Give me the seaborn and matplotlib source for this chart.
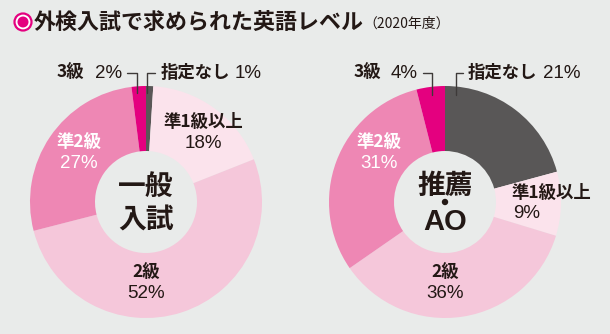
import matplotlib
matplotlib.use("Agg")
import matplotlib.pyplot as plt
from matplotlib.patches import Circle
import seaborn as sns

sns.set_theme(style="white")
plt.rcParams['font.family'] = ['Noto Sans CJK JP', 'DejaVu Sans']

# ---- data ----
categories = ["指定なし", "準1級以上", "2級", "準2級", "3級"]
ippan_values = [1, 18, 52, 27, 2]
suisen_values = [21, 9, 36, 31, 4]
title = "外検入試で求められた英語レベル"
subtitle = "（2020年度）"
center_left = ["一般", "入試"]
center_right = ["推薦", "・", "AO"]

colors = ["#595757", "#fbe3ec", "#f5c7da", "#ee87b4", "#e4007f"]
BG = "#e9ebea"
TXT = "#231815"
NUMFONT = ['Liberation Sans', 'DejaVu Sans']

W, H = 610, 334
fig = plt.figure(figsize=(W / 100, H / 100), dpi=100, facecolor=BG)
ax = fig.add_axes([0, 0, 1, 1])
ax.set_facecolor(BG)


def Y(y):
    return H - y


R, r = 116, 51
centers = [(146, 202), (445, 202)]
for (cx, cy), vals in zip(centers, [ippan_values, suisen_values]):
    ax.pie(vals, colors=colors, startangle=90, counterclock=False,
           radius=R, center=(cx, Y(cy)),
           wedgeprops=dict(width=R - r, edgecolor='none', linewidth=0))

ax.set_xlim(0, W)
ax.set_ylim(0, H)
ax.set_aspect('auto')
ax.axis('off')

# title
ax.add_patch(Circle((23, Y(22)), 8.5, facecolor='white', edgecolor='#e4007f', lw=1.6))
ax.add_patch(Circle((23, Y(22)), 5.5, facecolor='#e4007f', edgecolor='none'))
ax.text(34, Y(22), title, fontsize=15.8, fontweight='bold', color=TXT,
        ha='left', va='center')
ax.text(363, Y(24), subtitle, fontsize=10, color=TXT, ha='left', va='center')

# center labels
ax.text(146, Y(187), center_left[0], fontsize=20, fontweight='bold', color=TXT, ha='center', va='center')
ax.text(146, Y(221), center_left[1], fontsize=20, fontweight='bold', color=TXT, ha='center', va='center')
ax.text(445, Y(186), center_right[0], fontsize=20, fontweight='bold', color=TXT, ha='center', va='center')
ax.add_patch(Circle((445, Y(202)), 3.2, facecolor=TXT, edgecolor='none'))
ax.text(445, Y(222), center_right[2], fontsize=21, fontweight='bold', color=TXT,
        ha='center', va='center', family=['Liberation Sans', 'DejaVu Sans'])

LAB = 12.5
PCT = 13.5


def two_line(x, y, name, pct, color=TXT, ha='center'):
    ax.text(x, Y(y), name, fontsize=LAB, fontweight='bold', color=color, ha=ha, va='center')
    ax.text(x, Y(y + 21), pct, fontsize=PCT, color=color, ha=ha, va='center', family=NUMFONT)


# left donut labels
two_line(203, 122, categories[1], f"{ippan_values[1]}%")
two_line(146, 273, categories[2], f"{ippan_values[2]}%")
two_line(79, 143, categories[3], f"{ippan_values[3]}%", color='white')
ax.text(57, Y(73), categories[4], fontsize=LAB, fontweight='bold', color=TXT, ha='left', va='center')
ax.text(122, Y(73), f"{ippan_values[4]}%", fontsize=PCT, color=TXT, ha='right', va='center', family=NUMFONT)
ax.text(161, Y(73), categories[0], fontsize=LAB, fontweight='bold', color=TXT, ha='left', va='center')
ax.text(262, Y(73), f"{ippan_values[0]}%", fontsize=PCT, color=TXT, ha='right', va='center', family=NUMFONT)

# right donut labels
ax.text(512, Y(193), categories[1], fontsize=LAB, fontweight='bold', color=TXT, ha='left', va='center')
ax.text(513, Y(214), f"{suisen_values[1]}%", fontsize=PCT, color=TXT, ha='left', va='center', family=NUMFONT)
two_line(445, 273, categories[2], f"{suisen_values[2]}%")
two_line(379, 143, categories[3], f"{suisen_values[3]}%", color='white')
ax.text(354, Y(73), categories[4], fontsize=LAB, fontweight='bold', color=TXT, ha='left', va='center')
ax.text(418, Y(73), f"{suisen_values[4]}%", fontsize=PCT, color=TXT, ha='right', va='center', family=NUMFONT)
ax.text(468, Y(73), categories[0], fontsize=LAB, fontweight='bold', color=TXT, ha='left', va='center')
ax.text(581, Y(73), f"{suisen_values[0]}%", fontsize=PCT, color=TXT, ha='right', va='center', family=NUMFONT)

# leader lines
lw = 1.0
lc = "#3e3a39"
ax.plot([127, 137, 137], [Y(73), Y(73), Y(93)], color=lc, lw=lw)
ax.plot([155, 147, 147], [Y(73), Y(73), Y(93)], color=lc, lw=lw)
ax.plot([423, 432, 432], [Y(73), Y(73), Y(95)], color=lc, lw=lw)
ax.plot([463, 456, 456], [Y(73), Y(73), Y(95)], color=lc, lw=lw)

fig.savefig("out.png", dpi=100, facecolor=BG)
